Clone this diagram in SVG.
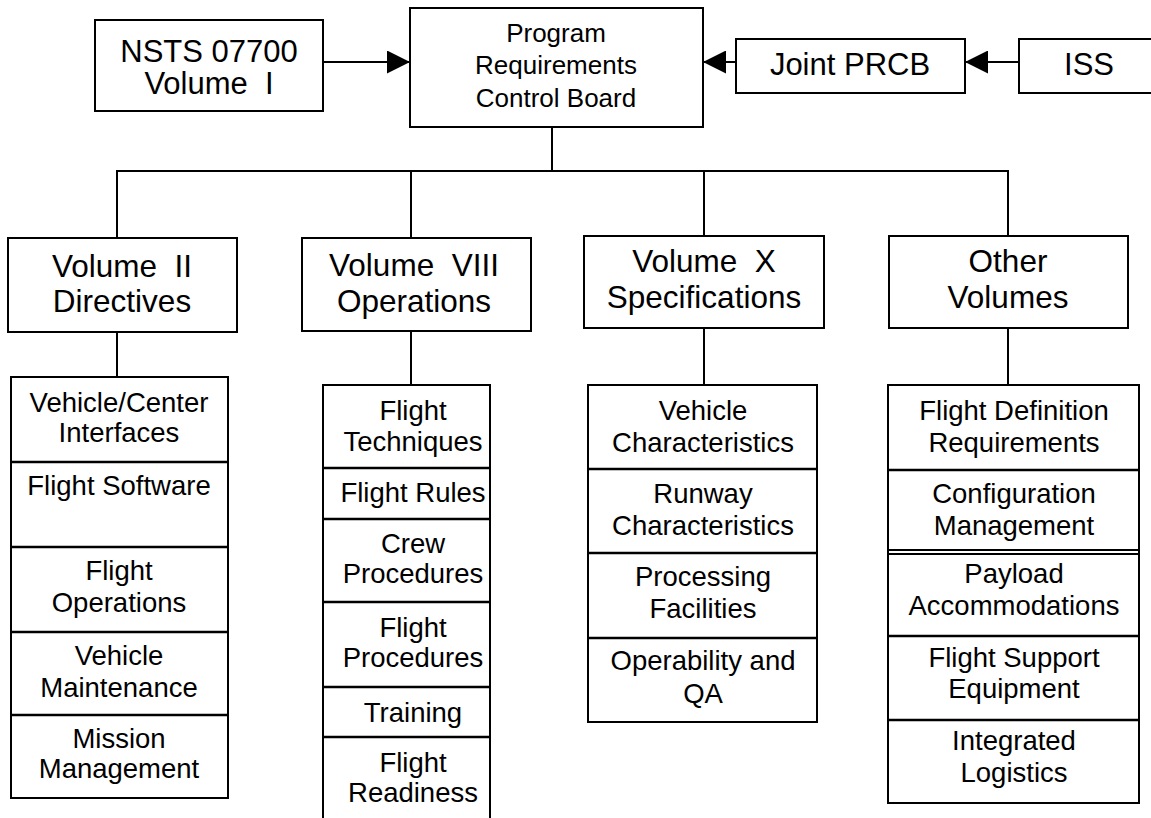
<svg xmlns="http://www.w3.org/2000/svg" width="1151" height="818" viewBox="0 0 1151 818">
<defs>
<marker id="ah" viewBox="0 0 24 24" refX="24" refY="12" markerWidth="23" markerHeight="23" markerUnits="userSpaceOnUse" orient="auto">
<path d="M0,0 L24,12 L0,24 Z" fill="#000"/>
</marker>
<style>
rect, .b { fill: #fff; stroke: #000; stroke-width: 2; }
.c { stroke: #000; stroke-width: 2; fill: none; }
.d { stroke: #000; stroke-width: 2.5; }
text { font-family: "Liberation Sans", Arial, sans-serif; fill: #000; text-anchor: middle; }
.big { font-size: 31px; }
.hd { font-size: 31.5px; }
.pr { font-size: 26px; }
.sm { font-size: 27.5px; }
</style>
</defs>
<rect x="0" y="0" width="1151" height="818" style="fill:#fff;stroke:none"/>

<g id="connectors">
<line class="c" x1="323" y1="62" x2="410" y2="62" marker-end="url(#ah)"/>
<line class="c" x1="736" y1="62" x2="703" y2="62" marker-end="url(#ah)"/>
<line class="c" x1="1019" y1="62" x2="965" y2="62" marker-end="url(#ah)"/>
<line class="c" x1="552" y1="127" x2="552" y2="171"/>
<line class="c" x1="116" y1="171" x2="1009" y2="171"/>
<line class="c" x1="117" y1="171" x2="117" y2="238"/>
<line class="c" x1="411" y1="171" x2="411" y2="238"/>
<line class="c" x1="704" y1="171" x2="704" y2="236"/>
<line class="c" x1="1008" y1="171" x2="1008" y2="236"/>
<line class="c" x1="117" y1="332" x2="117" y2="377"/>
<line class="c" x1="411" y1="331" x2="411" y2="385"/>
<line class="c" x1="704" y1="328" x2="704" y2="385"/>
<line class="c" x1="1008" y1="328" x2="1008" y2="385"/>
</g>

<g id="nsts">
<rect x="95" y="20" width="228" height="91"/>
<text class="big" x="209" y="62">NSTS 07700</text>
<text class="big" x="209" y="94" xml:space="preserve">Volume  I</text>
</g>

<g id="prcb">
<rect x="410" y="8" width="293" height="119"/>
<text class="pr" x="556" y="42">Program</text>
<text class="pr" x="556" y="74">Requirements</text>
<text class="pr" x="556" y="107">Control Board</text>
</g>

<g id="joint-prcb">
<rect x="736" y="39" width="229" height="54"/>
<text class="big" x="850" y="75">Joint PRCB</text>
</g>

<g id="iss">
<rect x="1019" y="39" width="150" height="54"/>
<text class="big" x="1089" y="75">ISS</text>
</g>

<g id="vol2">
<rect x="8" y="238" width="229" height="94"/>
<text class="hd" x="122" y="277" xml:space="preserve">Volume  II</text>
<text class="hd" x="122" y="312">Directives</text>
</g>

<g id="vol8">
<rect x="302" y="238" width="229" height="93"/>
<text class="hd" x="414" y="276" xml:space="preserve">Volume  VIII</text>
<text class="hd" x="414" y="312">Operations</text>
</g>

<g id="vol10">
<rect x="584" y="236" width="240" height="92"/>
<text class="hd" x="704" y="272" xml:space="preserve">Volume  X</text>
<text class="hd" x="704" y="308">Specifications</text>
</g>

<g id="other">
<rect x="889" y="236" width="239" height="92"/>
<text class="hd" x="1008" y="272">Other</text>
<text class="hd" x="1008" y="308">Volumes</text>
</g>

<g id="col2-items">
<rect x="11" y="377" width="217" height="421"/>
<line class="d" x1="11" y1="462" x2="228" y2="462"/>
<line class="d" x1="11" y1="547" x2="228" y2="547"/>
<line class="d" x1="11" y1="632" x2="228" y2="632"/>
<line class="d" x1="11" y1="715" x2="228" y2="715"/>
<text class="sm" x="119" y="412">Vehicle/Center</text>
<text class="sm" x="119" y="442">Interfaces</text>
<text class="sm" x="119" y="495">Flight Software</text>
<text class="sm" x="119" y="580">Flight</text>
<text class="sm" x="119" y="612">Operations</text>
<text class="sm" x="119" y="665">Vehicle</text>
<text class="sm" x="119" y="697">Maintenance</text>
<text class="sm" x="119" y="748">Mission</text>
<text class="sm" x="119" y="778">Management</text>
</g>

<g id="col8-items">
<rect x="323" y="385" width="167" height="450"/>
<line class="d" x1="323" y1="468" x2="490" y2="468"/>
<line class="d" x1="323" y1="519" x2="490" y2="519"/>
<line class="d" x1="323" y1="602" x2="490" y2="602"/>
<line class="d" x1="323" y1="687" x2="490" y2="687"/>
<line class="d" x1="323" y1="737" x2="490" y2="737"/>
<text class="sm" x="413" y="420">Flight</text>
<text class="sm" x="413" y="451">Techniques</text>
<text class="sm" x="413" y="502">Flight Rules</text>
<text class="sm" x="413" y="553">Crew</text>
<text class="sm" x="413" y="583">Procedures</text>
<text class="sm" x="413" y="637">Flight</text>
<text class="sm" x="413" y="667">Procedures</text>
<text class="sm" x="413" y="722">Training</text>
<text class="sm" x="413" y="772">Flight</text>
<text class="sm" x="413" y="802">Readiness</text>
</g>

<g id="col10-items">
<rect x="588" y="385" width="229" height="337"/>
<line class="d" x1="588" y1="469" x2="817" y2="469"/>
<line class="d" x1="588" y1="553" x2="817" y2="553"/>
<line class="d" x1="588" y1="638" x2="817" y2="638"/>
<text class="sm" x="703" y="420">Vehicle</text>
<text class="sm" x="703" y="452">Characteristics</text>
<text class="sm" x="703" y="503">Runway</text>
<text class="sm" x="703" y="535">Characteristics</text>
<text class="sm" x="703" y="586">Processing</text>
<text class="sm" x="703" y="618">Facilities</text>
<text class="sm" x="703" y="670">Operability and</text>
<text class="sm" x="703" y="703">QA</text>
</g>

<g id="other-items">
<rect x="888" y="385" width="251" height="418"/>
<line class="d" x1="888" y1="470" x2="1139" y2="470"/>
<line class="c" x1="888" y1="550" x2="1139" y2="550"/>
<line class="c" x1="888" y1="554" x2="1139" y2="554"/>
<line class="d" x1="888" y1="636" x2="1139" y2="636"/>
<line class="d" x1="888" y1="720" x2="1139" y2="720"/>
<text class="sm" x="1014" y="420">Flight Definition</text>
<text class="sm" x="1014" y="452">Requirements</text>
<text class="sm" x="1014" y="503">Configuration</text>
<text class="sm" x="1014" y="535">Management</text>
<text class="sm" x="1014" y="583">Payload</text>
<text class="sm" x="1014" y="615">Accommodations</text>
<text class="sm" x="1014" y="667">Flight Support</text>
<text class="sm" x="1014" y="698">Equipment</text>
<text class="sm" x="1014" y="750">Integrated</text>
<text class="sm" x="1014" y="782">Logistics</text>
</g>
</svg>
